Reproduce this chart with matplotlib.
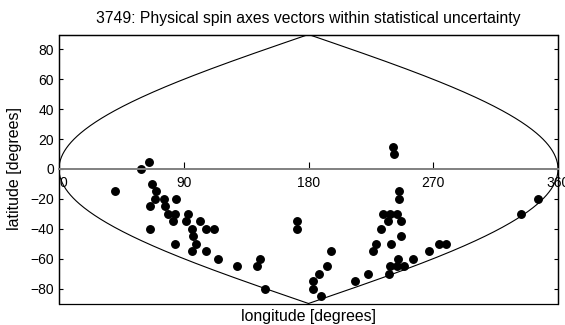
import numpy as np
import matplotlib.pyplot as plt
from matplotlib.patches import Rectangle

plt.rcParams['font.family'] = ['Liberation Sans', 'DejaVu Sans']

title = "3749: Physical spin axes vectors within statistical uncertainty"
xticks = [0, 90, 180, 270, 360]
yticks = [-80, -60, -40, -20, 0, 20, 40, 60, 80]

# projected longitude and latitude of each spin axis solution (degrees)
lon = [40.4, 59.5, 65, 67, 66, 66, 70, 69.4, 75.4, 76.2,
       78.3, 82, 83.5, 84.5, 83.7, 91.8, 92.9, 96, 96.8, 98.6,
       95.7, 101.7, 105.9, 111.7, 106.2, 114.5, 128.4, 143.2, 144.8, 148.4,
       171.7, 171.7, 183.4, 183.4, 189, 187.8, 193.6, 196.4, 213.4, 222.8,
       226.5, 228.8, 232.2, 233.8, 237.4, 239, 239.2, 238.2, 238.7, 240.8,
       241.8, 244.2, 245.5, 245.5, 247, 247, 244.7, 243.7, 249.2, 255.2,
       266.6, 274.2, 279.4, 333.4, 345.7]
lat = [-15, 0, 5, -10, -25, -40, -15, -20, -20, -25,
       -30, -35, -30, -20, -50, -35, -30, -40, -45, -50,
       -55, -35, -40, -40, -55, -60, -65, -65, -60, -80,
       -35, -40, -75, -80, -85, -70, -65, -55, -75, -70,
       -55, -50, -40, -30, -35, -30, -50, -70, -65, 15,
       10, -30, -15, -20, -35, -45, -60, -65, -65, -60,
       -55, -50, -50, -30, -20]

fig = plt.figure(figsize=(5.65, 3.25), dpi=100)
ax = fig.add_axes([59/565, 21.5/325, 499/565, 269/325])

# sinusoidal projection outline
b = np.radians(np.linspace(-90, 90, 361))
bd = np.degrees(b)
ax.plot(180 - 180*np.cos(b), bd, color='k', lw=0.8)
ax.plot(180 + 180*np.cos(b), bd, color='k', lw=0.8)

ax.plot(lon, lat, 'o', color='k', markersize=5.4)

ax.set_xlim(0, 360)
ax.set_ylim(-90, 90)
ax.set_xticks(xticks)
ax.set_yticks(yticks)

for s in ['top', 'left', 'right']:
    ax.spines[s].set_linewidth(0.9)
ax.spines['bottom'].set_position(('data', 0))
ax.spines['bottom'].set_color('#808080')
ax.spines['bottom'].set_linewidth(1.4)
ax.add_patch(Rectangle((0, 0), 1, 1, transform=ax.transAxes, fill=False,
                       lw=0.9, color='k', clip_on=False))

ax.tick_params(axis='x', direction='in', length=5, width=0.8, pad=5,
               labelsize=10, color='k')
ax.tick_params(axis='y', direction='in', left=True, right=True, length=3,
               width=0.8, pad=3.5, labelsize=10)
fig.canvas.draw()
ax.get_xticklabels()[0].set_ha('left')

ax.set_title(title, fontsize=11.3, pad=8)
ax.set_xlabel("longitude [degrees]", fontsize=11.4)
ax.xaxis.set_label_coords(0.5, -0.022)
ax.set_ylabel("latitude [degrees]", fontsize=11.5)
ax.yaxis.set_label_coords(-0.074, 0.5)

plt.savefig('out.png', dpi=100)
